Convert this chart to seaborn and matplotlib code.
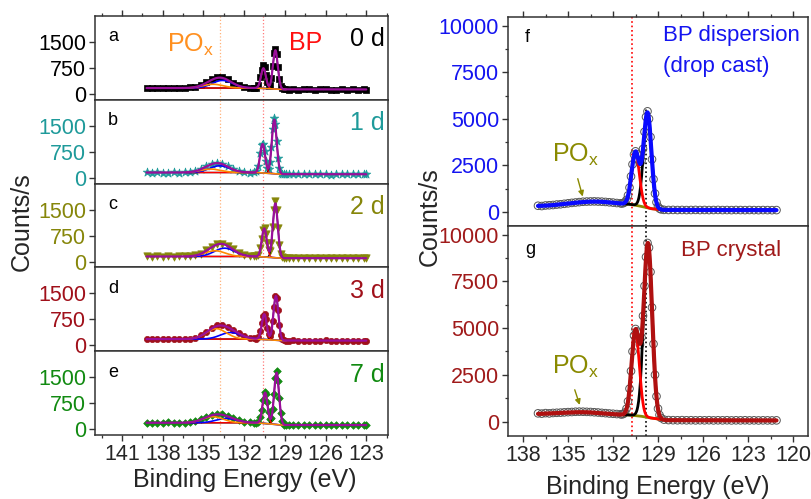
import numpy as np
import matplotlib
matplotlib.use("Agg")
import matplotlib.pyplot as plt
from matplotlib.ticker import MultipleLocator
import seaborn as sns

# ---------------- measured spectra: P 2p, ageing series (a-e) ----------------
energy_aging = [139.2, 138.8, 138.4, 138.0, 137.6, 137.2, 136.8, 136.4, 136.0, 135.6,
                135.2, 134.8, 134.4, 134.0, 133.6, 133.2, 132.8, 132.4, 132.0, 131.6,
                131.3, 131.1, 130.95,
                130.8, 130.7, 130.6, 130.5, 130.4, 130.3, 130.2, 130.1, 130.0, 129.9,
                129.8, 129.7, 129.6, 129.5, 129.4, 129.3, 129.2,
                129.05, 128.9, 128.7,
                128.4, 128.0, 127.6, 127.2, 126.8, 126.4, 126.0, 125.6, 125.2, 124.8,
                124.4, 124.0, 123.6, 123.2, 123.0]

counts_0d = [176, 166, 174, 181, 168, 178, 170, 180, 190, 210,
             258, 335, 425, 495, 490, 420, 325, 245, 200, 180,
             174, 185, 255,
             480, 700, 830, 770, 560, 350, 240, 270, 460, 800,
             1170, 1310, 1150, 770, 425, 232, 158,
             136, 131, 126,
             138, 124, 133, 140, 122, 129, 136, 125, 119, 133,
             127, 132, 123, 129, 126]
counts_1d = [155, 142, 158, 150, 146, 156, 148, 160, 170, 198,
             252, 330, 402, 435, 398, 325, 245, 190, 166, 150,
             155, 185, 345,
             720, 950, 975, 760, 470, 290, 265, 460, 880, 1400,
             1720, 1560, 1070, 560, 270, 150, 112,
             98, 104, 96,
             102, 95, 108, 100, 94, 105, 99, 92, 104, 97,
             101, 95, 106, 98, 100]
counts_2d = [150, 140, 148, 143, 152, 140, 147, 150, 160, 180,
             230, 318, 420, 505, 520, 455, 350, 250, 190, 160,
             150, 155, 200,
             400, 660, 905, 975, 800, 530, 320, 300, 530, 990,
             1500, 1740, 1480, 960, 490, 228, 125,
             95, 100, 92,
             97, 90, 99, 94, 88, 96, 92, 98, 90, 95,
             89, 97, 93, 91, 95]
counts_3d = [185, 178, 190, 176, 184, 188, 175, 186, 195, 225,
             285, 385, 500, 575, 590, 535, 445, 350, 268, 212,
             198, 195, 235,
             410, 630, 850, 905, 760, 505, 315, 262, 390, 700,
             1120, 1430, 1380, 1020, 600, 305, 180,
             140, 138, 130,
             140, 132, 137, 128, 136, 131, 139, 127, 134, 138,
             129, 133, 136, 130, 134]
counts_7d = [190, 180, 186, 178, 192, 181, 188, 190, 205, 232,
             285, 355, 420, 450, 440, 385, 315, 255, 215, 195,
             185, 190, 210,
             340, 560, 850, 1060, 1020, 770, 480, 305, 320, 570,
             1020, 1490, 1670, 1400, 900, 465, 230,
             130, 120, 112,
             122, 115, 119, 110, 121, 117, 113, 120, 114, 118,
             111, 119, 115, 117, 113]

day_labels = ["0 d", "1 d", "2 d", "3 d", "7 d"]
panel_letters = ["a", "b", "c", "d", "e"]
day_colors = ["#000000", "#1E9A9A", "#86860A", "#A0101A", "#118A11"]

# fitted components for the ageing series (counts above the background)
bp32_center = [129.70, 129.78, 129.70, 129.66, 129.61]
bp32_height = [1120, 1560, 1570, 1280, 1500]
bp12_center = [130.58, 130.64, 130.52, 130.52, 130.46]
bp12_height = [580, 830, 825, 730, 890]
bp_sigma = 0.18
pox_hi_center = [134.30, 134.45, 134.15, 134.05, 134.30]
pox_hi_height = [110, 100, 165, 300, 175]
pox_lo_center = [133.60, 133.80, 133.45, 133.00, 133.30]
pox_lo_height = [220, 195, 240, 190, 125]
pox_sigma = 0.75
baseline_high = [170, 150, 145, 180, 183]
baseline_low = [130, 100, 95, 135, 116]

# ---------------- measured spectra: dispersion (f) and crystal (g) ----------------
energy_ref = [137.0, 136.75, 136.5, 136.25, 136.0, 135.75, 135.5, 135.25, 135.0, 134.75,
              134.5, 134.25, 134.0, 133.75, 133.5, 133.25, 133.0, 132.75, 132.5, 132.25,
              132.0, 131.75, 131.5,
              131.4, 131.3, 131.2, 131.1, 131.0, 130.9, 130.8, 130.7, 130.6, 130.5,
              130.4, 130.3, 130.2, 130.1, 130.0, 129.9, 129.8, 129.7, 129.6, 129.5,
              129.4, 129.3, 129.2, 129.1, 129.0, 128.9, 128.8,
              128.6, 128.3, 128.0, 127.7, 127.4, 127.1, 126.8, 126.5, 126.2, 125.9,
              125.6, 125.3, 125.0, 124.7, 124.4, 124.1, 123.8, 123.5, 123.2, 122.9,
              122.6, 122.3, 122.0, 121.7, 121.4, 121.1]
counts_dispersion = [325, 310, 340, 352, 365, 390, 405, 430, 455, 480,
                     500, 520, 540, 550, 556, 560, 552, 545, 530, 512,
                     495, 472, 455,
                     450, 470, 520, 640, 880, 1300, 1900, 2550, 3080, 3250,
                     3100, 2780, 2590, 2750, 3380, 4300, 5100, 5400, 5000, 4020,
                     2820, 1750, 980, 510, 280, 175, 130,
                     105, 98, 102, 95, 99, 93, 97, 101, 94, 98,
                     92, 96, 100, 93, 95, 91, 97, 94, 90, 96,
                     92, 89, 94, 91, 88, 92]
counts_crystal = [440, 425, 452, 438, 460, 470, 478, 492, 505, 512,
                  525, 530, 528, 520, 512, 498, 485, 466, 450, 432,
                  418, 402, 390,
                  385, 410, 490, 690, 1080, 1760, 2700, 3750, 4600, 4950,
                  4820, 4380, 4120, 4500, 5650, 7250, 8800, 9550, 9300, 8000,
                  6100, 4150, 2500, 1350, 690, 350, 195,
                  105, 80, 74, 70, 76, 68, 72, 65, 71, 67,
                  73, 64, 69, 66, 71, 62, 68, 65, 70, 63,
                  67, 61, 66, 64, 60, 65]

ref_titles = [["BP dispersion", "(drop cast)"], ["BP crystal"]]
ref_letters = ["f", "g"]
ref_colors = ["#1414F0", "#A01A1A"]
ref_fit_colors = ["#0A0AFF", "#B01010"]

# fitted components for f and g
ref_bp32_center = [129.70, 129.67]
ref_bp32_height = [5100, 9300]
ref_bp32_sigma = [0.26, 0.28]
ref_bp12_center = [130.50, 130.50]
ref_bp12_height = [2850, 4500]
ref_bp12_sigma = [0.26, 0.26]
ref_pox_center = [133.3, 134.0]
ref_pox_height = [230, 130]
ref_pox_sigma = [1.6, 1.4]
ref_bg_energy = [[121.0, 128.6, 129.4, 130.0, 130.8, 137.0],
                 [121.0, 128.4, 129.4, 130.0, 130.8, 137.0]]
ref_bg_counts = [[90, 95, 150, 250, 330, 300],
                 [60, 70, 180, 270, 340, 400]]

pox_line_be = 133.8      # PO_x reference energy (a-e)
bp_line_be = 130.6       # BP reference energy (a-e)
ref_line_bp12 = 130.73   # f-g guide lines
ref_line_bp32 = 129.77


def peak(e, center, height, sigma):
    return height * np.exp(-0.5 * ((e - center) / sigma) ** 2)


sns.set_theme(style="ticks")
plt.rcParams["font.family"] = ["Liberation Sans", "DejaVu Sans"]
plt.rcParams["mathtext.fontset"] = "custom"
plt.rcParams["mathtext.rm"] = "Liberation Sans"
plt.rcParams["axes.edgecolor"] = "#333333"
plt.rcParams["axes.linewidth"] = 1.1

fig = plt.figure(figsize=(8.11, 4.99), dpi=100)

TICK_FS = 15.5
LABEL_FS = 18

# ---------------- left column: ageing series ----------------
aging_counts = [counts_0d, counts_1d, counts_2d, counts_3d, counts_7d]
marker_styles = [("s", 18), ("*", 42), ("v", 28), ("o", 20), ("D", 15)]
left_x, left_w, left_top, left_h = 0.1171, 0.3613, 0.9679, 0.16792

for i in range(5):
    ax = fig.add_axes([left_x, left_top - (i + 1) * left_h, left_w, left_h])
    col = day_colors[i]

    ax.axvline(pox_line_be, color="#FFB27A", ls=":", lw=0.9, zorder=1)
    ax.axvline(bp_line_be, color="#FF7A7A", ls=":", lw=0.9, zorder=1)

    mk, ms = marker_styles[i]
    sns.scatterplot(x=energy_aging, y=aging_counts[i], ax=ax, marker=mk, s=ms,
                    color=col, edgecolor=col, linewidth=0.5, zorder=2, legend=False)

    # fit components on the fit window
    ew = np.linspace(128.9, 136.3, 500)
    bg = np.interp(ew, [129.2, 131.0], [baseline_low[i], baseline_high[i]])
    comp_32 = peak(ew, bp32_center[i], bp32_height[i], bp_sigma)
    comp_12 = peak(ew, bp12_center[i], bp12_height[i], bp_sigma)
    comp_hi = peak(ew, pox_hi_center[i], pox_hi_height[i], pox_sigma)
    comp_lo = peak(ew, pox_lo_center[i], pox_lo_height[i], pox_sigma)
    sns.lineplot(x=ew, y=bg + comp_32, ax=ax, color="black", lw=1.0, zorder=3)
    sns.lineplot(x=ew, y=bg + comp_12, ax=ax, color="#FF0000", lw=1.0, zorder=3)
    sns.lineplot(x=ew, y=bg + comp_lo, ax=ax, color="#0000FF", lw=1.2, zorder=3)
    sns.lineplot(x=ew, y=bg + comp_hi, ax=ax, color="#FF8C00", lw=1.2, zorder=3)

    # envelope over the full scan
    ef = np.linspace(123.0, 139.2, 900)
    bgf = np.interp(ef, [129.2, 131.0], [baseline_low[i], baseline_high[i]])
    env = (bgf + peak(ef, bp32_center[i], bp32_height[i], bp_sigma)
           + peak(ef, bp12_center[i], bp12_height[i], bp_sigma)
           + peak(ef, pox_hi_center[i], pox_hi_height[i], pox_sigma)
           + peak(ef, pox_lo_center[i], pox_lo_height[i], pox_sigma))
    sns.lineplot(x=ef, y=env, ax=ax, color="#9A0E9A", lw=1.6, zorder=4)

    ax.set_xlim(143.0, 121.4)
    ax.set_ylim(-170, 2250)
    ax.set_xticks(np.arange(123, 142, 3))
    ax.xaxis.set_minor_locator(MultipleLocator(1.5))
    ax.set_yticks([0, 750, 1500])
    ax.tick_params(axis="both", which="both", direction="out", labelsize=TICK_FS,
                   pad=2, color="#333333")
    ax.tick_params(which="major", length=4.5, width=1.0)
    ax.tick_params(which="minor", length=2.5, width=0.9)
    ax.tick_params(axis="y", labelcolor=col)
    if i == 0:
        ax.tick_params(axis="x", which="both", top=True)
    if i < 4:
        ax.tick_params(axis="x", labelbottom=False)
    ax.set_xlabel("")
    ax.set_ylabel("")

    ax.text(0.044, 0.75, panel_letters[i], transform=ax.transAxes, fontsize=13,
            va="center", ha="left", color="black")
    ax.text(0.99, 0.72, day_labels[i], transform=ax.transAxes, fontsize=LABEL_FS,
            va="center", ha="right", color=col)
    if i == 0:
        ax.text(0.245, 0.66, r"PO$_\mathregular{x}$", transform=ax.transAxes,
                fontsize=LABEL_FS, va="center", ha="left", color="#FF9020")
        ax.text(0.662, 0.68, "BP", transform=ax.transAxes, fontsize=LABEL_FS,
                va="center", ha="left", color="#FF1010")

fig.text(0.027, 0.556, "Counts/s", rotation=90, fontsize=LABEL_FS,
         ha="center", va="center")
fig.text(0.302, 0.038, "Binding Energy (eV)", fontsize=LABEL_FS,
         ha="center", va="center")

# ---------------- right column: dispersion and crystal ----------------
ref_counts = [counts_dispersion, counts_crystal]
right_x, right_w, right_top, right_h = 0.6264, 0.3699, 0.9659, 0.4198
arrow_tail = [(134.35, 1780), (134.55, 1700)]
arrow_tip = [(134.02, 820), (134.22, 890)]

for j in range(2):
    ax = fig.add_axes([right_x, right_top - (j + 1) * right_h, right_w, right_h])
    col = ref_colors[j]

    ax.axvline(ref_line_bp12, color="#FF0000", ls=":", lw=1.2, zorder=1)
    if j == 0:
        ax.plot([ref_line_bp32, ref_line_bp32], [-790, 5500], color="black",
                ls=":", lw=1.2, zorder=1)
    else:
        ax.axvline(ref_line_bp32, color="black", ls=":", lw=1.2, zorder=1)

    sns.scatterplot(x=energy_ref, y=ref_counts[j], ax=ax, marker="o", s=30,
                    facecolor="none", edgecolor="#555555", linewidth=0.7,
                    zorder=2, legend=False)

    # PO_x + background component
    eo = np.linspace(128.4, 137.0, 500)
    olive = (np.interp(eo, ref_bg_energy[j], ref_bg_counts[j])
             + peak(eo, ref_pox_center[j], ref_pox_height[j], ref_pox_sigma[j]))
    # BP doublet components on the same background
    eb = np.linspace(128.6, 131.6, 400)
    base_b = (np.interp(eb, ref_bg_energy[j], ref_bg_counts[j])
              + peak(eb, ref_pox_center[j], ref_pox_height[j], ref_pox_sigma[j]))
    c32 = peak(eb, ref_bp32_center[j], ref_bp32_height[j], ref_bp32_sigma[j])
    c12 = peak(eb, ref_bp12_center[j], ref_bp12_height[j], ref_bp12_sigma[j])
    ef = np.linspace(121.1, 137.0, 1200)
    env = (np.interp(ef, ref_bg_energy[j], ref_bg_counts[j])
           + peak(ef, ref_pox_center[j], ref_pox_height[j], ref_pox_sigma[j])
           + peak(ef, ref_bp32_center[j], ref_bp32_height[j], ref_bp32_sigma[j])
           + peak(ef, ref_bp12_center[j], ref_bp12_height[j], ref_bp12_sigma[j]))

    sns.lineplot(x=eo, y=olive, ax=ax, color="#8A8A00", lw=2.0, zorder=3)
    sns.lineplot(x=eb, y=base_b + c32, ax=ax, color="black", lw=2.0, zorder=3)
    sns.lineplot(x=eb, y=base_b + c12, ax=ax, color="#FF0000", lw=2.0, zorder=3)
    sns.lineplot(x=ef, y=env, ax=ax, color=ref_fit_colors[j], lw=3.0, zorder=4)

    ax.set_xlim(139.0, 119.0)
    if j == 0:
        ax.set_ylim(-790, 10470)
    else:
        ax.set_ylim(-770, 10430)
    ax.set_xticks(np.arange(120, 139, 3))
    ax.xaxis.set_minor_locator(MultipleLocator(1.5))
    ax.set_yticks(np.arange(0, 10001, 2500))
    ax.yaxis.set_minor_locator(MultipleLocator(1250))
    ax.tick_params(axis="both", which="both", direction="out", labelsize=TICK_FS,
                   pad=2, color="#333333")
    ax.tick_params(which="major", length=4.5, width=1.0)
    ax.tick_params(which="minor", length=2.5, width=0.9)
    ax.tick_params(axis="y", labelcolor=col)
    if j == 0:
        ax.tick_params(axis="x", which="both", top=True, labelbottom=False)
    ax.set_xlabel("")
    ax.set_ylabel("")

    ax.text(0.057, 0.9 if j == 0 else 0.89, ref_letters[j], transform=ax.transAxes,
            fontsize=13, va="center", ha="left", color="black")
    if j == 0:
        ax.text(0.517, 0.914, ref_titles[0][0], transform=ax.transAxes, fontsize=16,
                va="center", ha="left", color=col)
        ax.text(0.517, 0.762, ref_titles[0][1], transform=ax.transAxes, fontsize=16,
                va="center", ha="left", color=col)
    else:
        ax.text(0.577, 0.887, ref_titles[1][0], transform=ax.transAxes, fontsize=16,
                va="center", ha="left", color=col)
    ax.text(0.147, 0.33 if j == 1 else 0.343, r"PO$_\mathregular{x}$",
            transform=ax.transAxes, fontsize=LABEL_FS, va="center", ha="left",
            color="#8A8A00")
    ax.annotate("", xy=arrow_tip[j], xytext=arrow_tail[j],
                arrowprops=dict(arrowstyle="-|>", color="#8A8A00", lw=1.0,
                                mutation_scale=8, shrinkA=0, shrinkB=0))

fig.text(0.530, 0.566, "Counts/s", rotation=90, fontsize=LABEL_FS,
         ha="center", va="center")
fig.text(0.811, 0.024, "Binding Energy (eV)", fontsize=LABEL_FS,
         ha="center", va="center")

fig.savefig("out.png", dpi=100)
